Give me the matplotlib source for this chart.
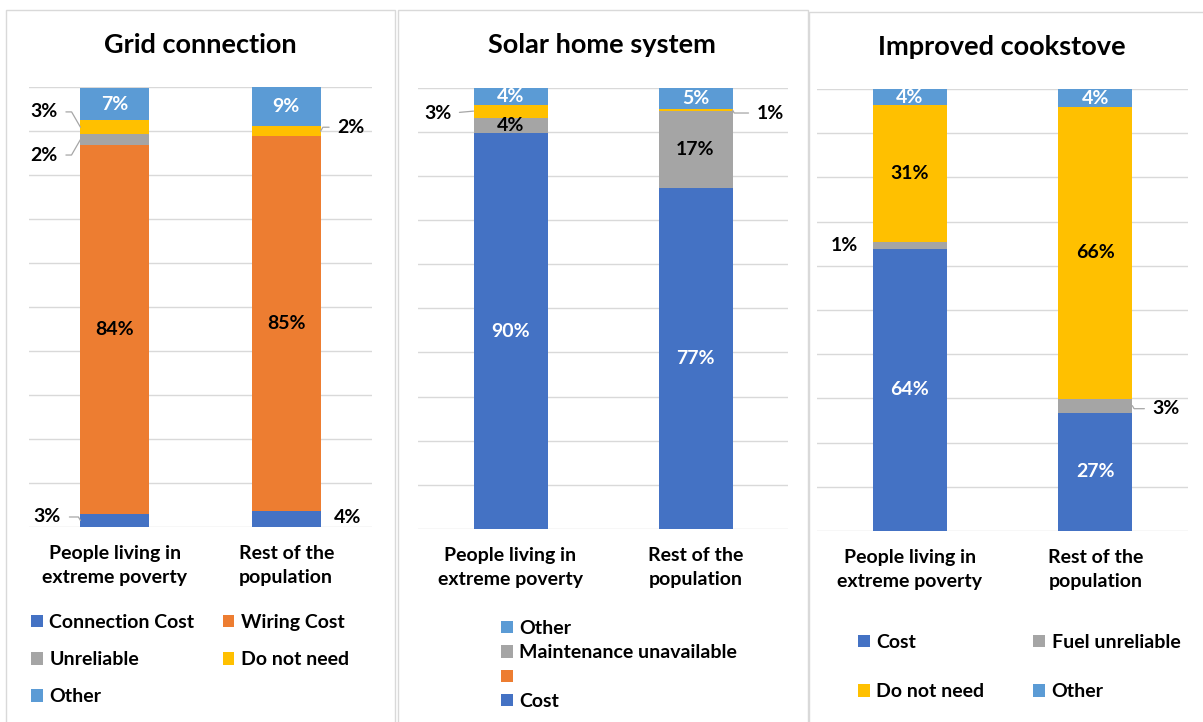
import matplotlib.pyplot as plt
from matplotlib.patches import Rectangle

plt.rcParams['font.family'] = ['Lato', 'DejaVu Sans']
plt.rcParams['font.weight'] = 'bold'

W, H = 1203, 722

groups = ['People living in\nextreme poverty', 'Rest of the\npopulation']

# Grid connection (%)
grid_series = ['Connection Cost', 'Wiring Cost', 'Unreliable', 'Do not need', 'Other']
grid_poverty = [2.96, 83.9, 2.4, 3.2, 7.3]
grid_rest = [3.6, 85.2, 0.0, 2.3, 8.9]

# Solar home system (%)
solar_series = ['Cost', '', 'Maintenance unavailable', 'Do not need', 'Other']
solar_poverty = [89.6, 0.0, 3.6, 2.9, 3.9]
solar_rest = [77.2, 0.0, 17.4, 0.6, 4.8]

# Improved cookstove (%)
cook_series = ['Cost', 'Fuel unreliable', 'Do not need', 'Other']
cook_poverty = [63.9, 1.4, 31.0, 3.7]
cook_rest = [26.8, 3.1, 66.0, 4.1]

BLUE, ORANGE, GRAY, YELLOW, LBLUE = '#4472C4', '#ED7D31', '#A5A5A5', '#FFC000', '#5B9BD5'
GRID_C = '#d9d9d9'

# label spec per segment: 'in', None, or (dx px, dy px, leader line)
grid_labels = [
    [(-33, 3.5, True), 'in', (-36.5, -15.5, True), (-36.5, 15.3, True), 'in'],
    [(27, 2, False), 'in', None, (30.5, 4, True), 'in'],
]
solar_labels = [
    ['in', None, 'in', (-36, -2, True), 'in'],
    ['in', None, 'in', (38, -3, True), 'in'],
]
cook_labels = [
    ['in', (-28, -0.5, False), 'in', 'in'],
    ['in', (34, -3, True), 'in', 'in'],
]

panels = [
    dict(title='Grid connection', series=grid_series, data=[grid_poverty, grid_rest],
         colors=[BLUE, ORANGE, GRAY, YELLOW, LBLUE], labels=grid_labels,
         box=(29, 87, 372, 527), frame=(6, 10, 395, 740), title_xy=(200, 45),
         leg_order=[0, 2, 4, 1, 3], leg_ncol=2, leg_xy=(31, 614),
         leg_spacing=1.04, leg_colsp=1.45),
    dict(title='Solar home system', series=solar_series, data=[solar_poverty, solar_rest],
         colors=[BLUE, ORANGE, GRAY, YELLOW, LBLUE], labels=solar_labels,
         box=(418, 87.5, 788, 529), frame=(398, 10, 808, 740), title_xy=(602, 45),
         leg_order=[4, 2, 1, 0], leg_ncol=1, leg_xy=(501, 620),
         leg_spacing=0.38, leg_colsp=1.0),
    dict(title='Improved cookstove', series=cook_series, data=[cook_poverty, cook_rest],
         colors=[BLUE, GRAY, YELLOW, LBLUE], labels=cook_labels,
         box=(817, 89, 1188, 531), frame=(809, 12, 1215, 740), title_xy=(1002, 47),
         leg_order=[0, 2, 1, 3], leg_ncol=2, leg_xy=(858, 634),
         leg_spacing=1.67, leg_colsp=2.5),
]

fig = plt.figure(figsize=(W / 100, H / 100), dpi=100)

FS = 14
width = 0.4
xs = [0, 1]

for p in panels:
    fx0, fy0, fx1, fy1 = p['frame']
    fig.patches.append(Rectangle((fx0 / W, 1 - fy1 / H), (fx1 - fx0) / W, (fy1 - fy0) / H,
                                 transform=fig.transFigure, fill=False,
                                 edgecolor=GRID_C, lw=1.0))
    x0, y0, x1, y1 = p['box']
    ax = fig.add_axes([x0 / W, 1 - y1 / H, (x1 - x0) / W, (y1 - y0) / H])

    handles = []
    for si, name in enumerate(p['series']):
        vals = [d[si] for d in p['data']]
        bottoms = [sum(d[:si]) for d in p['data']]
        bars = ax.bar(xs, vals, width, bottom=bottoms, color=p['colors'][si],
                      label=name, linewidth=0, zorder=3)
        handles.append(bars)
        for bi in range(len(xs)):
            spec = p['labels'][bi][si]
            if spec is None:
                continue
            v = vals[bi]
            mid = bottoms[bi] + v / 2
            txt = f'{v:.0f}%'
            if spec == 'in':
                col = 'white' if p['colors'][si] in (BLUE, LBLUE) else 'black'
                ax.text(xs[bi], mid, txt, ha='center', va='center', color=col,
                        fontsize=FS, fontweight='bold', zorder=5)
            else:
                dx, dy, line = spec
                edge = xs[bi] - width / 2 if dx < 0 else xs[bi] + width / 2
                kw = {}
                if line:
                    if dx < 0:
                        ang = 60 if dy < 0 else -60
                    else:
                        ang = 60 if dy > 0 else -60
                    if abs(dy) < 3:
                        cs = 'arc3,rad=0'
                    else:
                        cs = f'angle,angleA=0,angleB={ang},rad=0'
                    kw['arrowprops'] = dict(arrowstyle='-', color='#a6a6a6', lw=0.9,
                                            shrinkA=4, shrinkB=0,
                                            relpos=(1, 0.5) if dx < 0 else (0, 0.5),
                                            connectionstyle=cs)
                ax.annotate(txt, xy=(edge, mid), xytext=(dx, dy),
                            textcoords='offset pixels', ha='center', va='center',
                            fontsize=FS, fontweight='bold', color='black', **kw)

    ax.set_xlim(-0.5, 1.5)
    ax.set_ylim(0, 100)
    ax.set_yticks(range(0, 101, 10))
    ax.yaxis.grid(True, color=GRID_C, lw=1.0, zorder=0)
    ax.set_axisbelow(True)
    ax.tick_params(axis='y', left=False, labelleft=False)
    ax.set_xticks(xs)
    ax.set_xticklabels(groups, fontsize=FS, fontweight='bold', linespacing=1.5)
    ax.tick_params(axis='x', length=0, pad=13)
    for s in ax.spines.values():
        s.set_visible(False)

    fig.text(p['title_xy'][0] / W, 1 - p['title_xy'][1] / H, p['title'],
             ha='center', va='center', fontsize=19.5, fontweight='bold')

    lh = [handles[i] for i in p['leg_order']]
    ll = [p['series'][i] for i in p['leg_order']]
    fig.legend(lh, ll, loc='upper left',
               bbox_to_anchor=(p['leg_xy'][0] / W, 1 - p['leg_xy'][1] / H),
               bbox_transform=fig.transFigure, ncol=p['leg_ncol'], frameon=False,
               fontsize=FS, borderpad=0, borderaxespad=0,
               handlelength=0.6, handleheight=0.6, handletextpad=0.35,
               labelspacing=p['leg_spacing'], columnspacing=p['leg_colsp'])

fig.savefig('out.png', dpi=100)
